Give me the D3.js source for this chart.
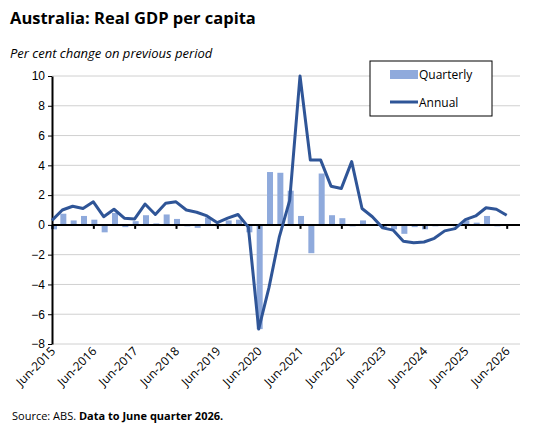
<!DOCTYPE html>
<html><head><meta charset="utf-8">
<script src="https://cdn.jsdelivr.net/npm/d3@7"></script>
<style>body{margin:0;background:#fff}svg{font-family:"Open Sans",sans-serif}</style>
</head><body><div id="chart"></div>
<script>
const years = d3.range(2015, 2027);
const quarters = [];
years.forEach(y => ["Jun", "Sep", "Dec", "Mar"].forEach((m, k) => {
  const yr = m === "Mar" ? y + 1 : y;
  if (yr < 2026 || (yr === 2026 && m === "Mar") || (y === 2026 && m === "Jun")) quarters.push(m + "-" + yr);
}));
const quarterly = [-0.3,0.75,0.3,0.6,0.35,-0.5,0.8,-0.15,0.25,0.65,0.1,0.7,0.4,-0.1,-0.2,0.5,-0.1,0.3,0.35,-0.5,
  -7.0,3.55,3.5,2.3,0.6,-1.9,3.45,0.65,0.45,-0.1,0.3,-0.05,-0.2,-0.3,-0.6,-0.15,-0.3,-0.1,0.05,-0.1,0.3,0.15,0.6,-0.1,0.05];
const annual = [0.3,1.0,1.25,1.1,1.55,0.55,1.05,0.45,0.4,1.4,0.7,1.45,1.55,1.0,0.85,0.6,0.15,0.45,0.7,-0.15,
  -7.0,-4.2,-0.8,1.65,10.0,4.35,4.35,2.6,2.45,4.25,1.1,0.55,-0.2,-0.35,-1.1,-1.2,-1.15,-0.9,-0.4,-0.25,0.35,0.6,1.15,1.05,0.65];
const yTicks = d3.range(-8, 11, 2);
const labelTicks = quarters.filter(q => q.startsWith("Jun"));

const W = 548, H = 436;
const svg = d3.select("#chart").append("svg").attr("width", W).attr("height", H);
const x = d3.scalePoint().domain(quarters.slice(0, 45)).range([52, 506.7]);
const y = d3.scaleLinear().domain([-8, 10]).range([344, 76]);

svg.append("text").attr("x", 10).attr("y", 24).attr("font-size", 16.5).attr("font-weight", "bold").text("Australia: Real GDP per capita");
svg.append("text").attr("x", 10).attr("y", 58).attr("font-size", 13).attr("font-style", "italic").text("Per cent change on previous period");

svg.append("g").selectAll("line").data(yTicks).join("line")
  .attr("x1", 52).attr("x2", 520).attr("y1", d => y(d)).attr("y2", d => y(d))
  .attr("stroke", "#d0d0d0");

svg.append("g").attr("fill", "#8faadc").selectAll("rect").data(quarterly).join("rect")
  .attr("x", (d, i) => x(quarters[i]) - 2 + (i === 0 ? 1 : 0)).attr("width", 6)
  .attr("y", d => y(Math.max(0, d))).attr("height", d => Math.abs(y(d) - y(0)));

const ya = svg.append("g").attr("transform", "translate(52,0)")
  .call(d3.axisLeft(y).tickValues(yTicks).tickSize(4).tickSizeOuter(0));
ya.select(".domain").attr("stroke-width", 2);
ya.selectAll("text").attr("font-size", 12).attr("fill", "#000");

const xa = svg.append("g").attr("transform", `translate(0,${y(0)})`)
  .call(d3.axisBottom(x).tickValues(labelTicks).tickSize(4).tickFormat(""));
xa.select(".domain").attr("d", "M52,0H520").attr("stroke-width", 2);
xa.selectAll("line").attr("stroke-width", 2);

svg.append("g").selectAll("text").data(labelTicks).join("text")
  .attr("transform", d => `translate(${x(d) + 4},${352}) rotate(-45)`)
  .attr("text-anchor", "end").attr("font-size", 12).text(d => d);

svg.append("path").datum(annual)
  .attr("fill", "none").attr("stroke", "#2f5597").attr("stroke-width", 3).attr("stroke-linejoin", "round")
  .attr("d", d3.line().x((d, i) => x(quarters[i])).y(d => y(d)));

const lg = svg.append("g");
lg.append("rect").attr("x", 370).attr("y", 61).attr("width", 122).attr("height", 55).attr("fill", "#fff").attr("stroke", "#000");
lg.append("rect").attr("x", 390).attr("y", 70).attr("width", 28).attr("height", 9).attr("fill", "#8faadc");
lg.append("line").attr("x1", 390).attr("x2", 418).attr("y1", 102).attr("y2", 102).attr("stroke", "#2f5597").attr("stroke-width", 3);
lg.append("text").attr("x", 419).attr("y", 79).attr("font-size", 12).text("Quarterly");
lg.append("text").attr("x", 419).attr("y", 107).attr("font-size", 12).text("Annual");

const src = svg.append("text").attr("x", 12).attr("y", 420).attr("font-size", 11);
src.append("tspan").text("Source: ABS. ");
src.append("tspan").attr("font-weight", "bold").text("Data to June quarter  2026.");
</script></body></html>
